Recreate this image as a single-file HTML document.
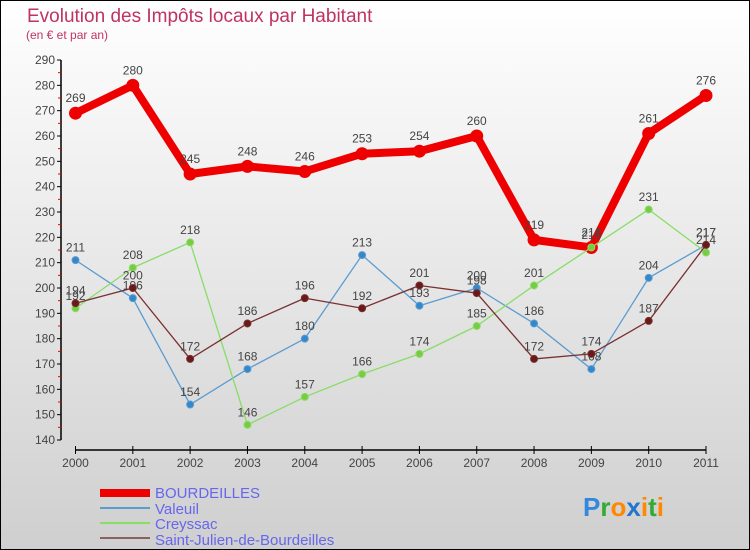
<!DOCTYPE html>
<html><head><meta charset="utf-8"><style>
body{margin:0}
#c{width:750px;height:550px;position:relative;overflow:hidden}
svg text{font-family:"Liberation Sans",sans-serif}
</style></head><body>
<div id="c">
<svg id="s" width="750" height="550" xmlns="http://www.w3.org/2000/svg">
<defs><linearGradient id="bg" x1="0" y1="0" x2="0" y2="1"><stop offset="0" stop-color="#ffffff"/><stop offset="1" stop-color="#cfcfcf"/></linearGradient></defs>
<rect x="0.5" y="0.5" width="749" height="549" fill="url(#bg)" stroke="#000"/>
<text x="27" y="22" font-size="19" fill="#c0335f">Evolution des Impôts locaux par Habitant</text>
<text x="26" y="39" font-size="12" fill="#c0335f">(en € et par an)</text>
<g id="axes"></g><g id="marks"></g>
<g>
<rect x="100" y="489" width="50" height="8" fill="#ee0000"/>
<text x="155" y="498" font-size="15" fill="#6666ee">BOURDEILLES</text>
<line x1="100" y1="508" x2="150" y2="508" stroke="#5b9bd0" stroke-width="2"/>
<text x="155" y="514" font-size="15" fill="#6666ee">Valeuil</text>
<line x1="100" y1="523" x2="150" y2="523" stroke="#88dd66" stroke-width="2"/>
<text x="155" y="529" font-size="15" fill="#6666ee">Creyssac</text>
<line x1="100" y1="538" x2="150" y2="538" stroke="#8b6060" stroke-width="2"/>
<text x="155" y="545" font-size="15" fill="#6666ee">Saint-Julien-de-Bourdeilles</text>
</g>
<text x="583" y="516" font-size="26" font-weight="bold"><tspan fill="#3388dd">P</tspan><tspan fill="#33aa33">r</tspan><tspan fill="#ff8800">o</tspan><tspan fill="#2277cc">x</tspan><tspan fill="#ff8800">i</tspan><tspan fill="#33aa33">t</tspan><tspan fill="#ff8800">i</tspan></text>
</svg></div>
<script>
const years=["2000","2001","2002","2003","2004","2005","2006","2007","2008","2009","2010","2011"];
const yTicks=[140,150,160,170,180,190,200,210,220,230,240,250,260,270,280,290];
const bourdeilles=[269,280,245,248,246,253,254,260,219,216,261,276];
const valeuil=[211,196,154,168,180,213,193,200,186,168,204,217];
const creyssac=[192,208,218,146,157,166,174,185,201,216,231,214];
const saintJulien=[194,200,172,186,196,192,201,198,172,174,187,217];
const NS="http://www.w3.org/2000/svg";
function X(i){return 75.5+i*(706-75.5)/11;}
function Y(v){return 60+(290-v)*(440-60)/150;}
function mk(t,a,p){const e=document.createElementNS(NS,t);for(const k in a)e.setAttribute(k,a[k]);p.appendChild(e);return e;}
const ax=document.getElementById('axes'),mg=document.getElementById('marks');
let l=mk('line',{x1:61,y1:Y(290),x2:61,y2:Y(140),stroke:'#000','stroke-width':1.5},ax);


yTicks.forEach(v=>{mk('line',{x1:57,y1:Y(v),x2:61,y2:Y(v),stroke:'#000'},ax);
 if(v<290)mk('line',{x1:58,y1:Y(v+5),x2:61,y2:Y(v+5),stroke:'#e00'},ax);
 const t=mk('text',{x:55,y:Y(v)+4,'font-size':12,fill:'#444','text-anchor':'end'},ax);t.textContent=v;
 
 });
l=mk('line',{x1:X(0),y1:450,x2:X(11),y2:450,stroke:'#000','stroke-width':1.5},ax);


years.forEach((y,i)=>{mk('line',{x1:X(i),y1:446,x2:X(i),y2:454,stroke:'#000'},ax);
 const t=mk('text',{x:X(i),y:467,'font-size':12,fill:'#444','text-anchor':'middle'},ax);t.textContent=y;
 
 });
function series(name,vals,col,dot,w,r){const g=mk('g',{},mg);
 
 
 mk('polyline',{points:vals.map((v,i)=>X(i)+','+Y(v)).join(' '),fill:'none',stroke:col,'stroke-width':w,'stroke-linejoin':'round'},g);
 vals.forEach((v,i)=>{const c=mk('circle',{cx:X(i),cy:Y(v),r:r,fill:dot,stroke:col,'stroke-width':1},g);
  
  
  const t=mk('text',{x:X(i),y:Y(v)-r-5,'font-size':12,fill:'#444','text-anchor':'middle'},g);t.textContent=v;
  
  });}
series('bourdeilles',bourdeilles,'#ee0000','#ee0000',8,6);
series('valeuil',valeuil,'#5b9bd0','#3388cc',1.3,3.5);
series('creyssac',creyssac,'#88dd66','#77cc44',1.3,3.5);
series('saint-julien',saintJulien,'#7a3030','#661a1a',1.3,3.5);
</script>
</body></html>
